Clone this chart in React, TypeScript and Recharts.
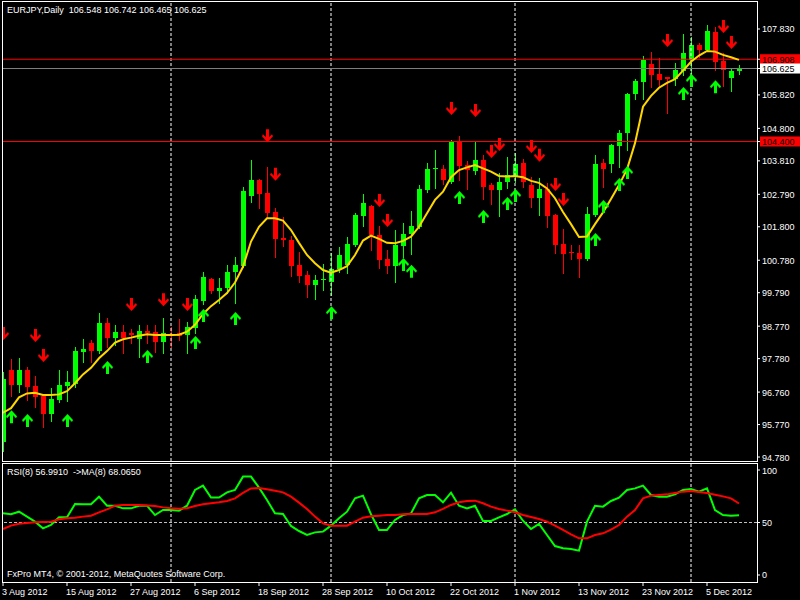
import { ComposedChart, Bar, Line, Scatter, XAxis, YAxis, ReferenceLine } from 'recharts'

const FONT = '"Liberation Sans", Arial, sans-serif'

// daily EURJPY, 3 Aug 2012 .. 11 Dec 2012 (93 sessions, index = bar number)
const openP = [
  95.24, 97.43, 96.98, 97.43, 96.95, 96.64, 96.09, 96.52, 96.95, 97.01,
  97.98, 98.25, 98.01, 98.87, 98.41, 98.59, 98.56, 98.38, 98.62, 98.59,
  98.29, 98.50, 98.56, 98.50, 98.71, 99.54, 100.21, 99.84, 99.93, 100.42,
  100.60, 102.74, 103.23, 102.83, 102.25, 101.46, 101.40, 100.63, 100.33, 100.02,
  100.21, 100.12, 100.51, 100.63, 101.24, 102.13, 102.43, 101.55, 100.82, 100.60,
  101.21, 101.58, 101.79, 102.92, 103.56, 103.56, 103.17, 104.42, 103.68, 103.50,
  103.84, 103.07, 102.92, 103.17, 103.32, 103.74, 103.07, 102.68, 102.95, 102.16,
  101.27, 101.03, 101.00, 100.82, 102.16, 103.74, 103.71, 104.26, 104.66, 105.85,
  106.21, 106.76, 106.46, 106.37, 106.31, 106.55, 106.89, 107.34, 107.19, 107.74,
  106.85, 106.34, 106.55,
]
const highP = [
  97.37, 97.77, 97.80, 97.52, 97.25, 96.67, 96.89, 97.43, 97.40, 98.13,
  98.38, 98.35, 99.17, 99.02, 98.81, 98.81, 98.68, 98.81, 98.81, 98.81,
  99.02, 98.74, 98.99, 98.90, 99.72, 100.42, 100.24, 100.24, 100.63, 100.88,
  103.01, 103.84, 103.26, 103.62, 102.37, 102.10, 101.52, 101.03, 100.45, 100.33,
  100.67, 101.00, 101.18, 101.49, 102.22, 102.80, 102.47, 101.82, 101.09, 101.70,
  101.91, 102.28, 103.07, 103.74, 104.14, 103.68, 104.45, 104.57, 103.80, 104.38,
  103.99, 103.13, 103.44, 103.93, 104.05, 103.87, 103.32, 103.29, 103.13, 102.18,
  101.73, 101.24, 101.24, 102.40, 103.99, 103.87, 104.32, 104.75, 105.88, 106.31,
  107.01, 107.13, 106.95, 106.38, 106.79, 107.68, 107.59, 107.40, 107.95, 107.89,
  107.10, 106.64, 106.74,
]
const lowP = [
  94.96, 96.64, 96.76, 96.52, 96.31, 95.70, 95.88, 96.46, 96.49, 96.91,
  97.67, 97.67, 97.95, 98.13, 98.19, 97.95, 98.26, 97.83, 98.26, 97.98,
  97.95, 98.13, 98.35, 97.95, 98.56, 99.45, 99.78, 99.48, 99.78, 99.48,
  100.57, 102.56, 102.37, 102.10, 100.88, 101.21, 100.30, 100.12, 99.66, 99.60,
  99.87, 99.72, 100.42, 100.39, 101.21, 101.82, 101.09, 100.54, 100.39, 100.12,
  100.88, 100.97, 101.76, 102.86, 102.98, 103.10, 103.14, 103.23, 102.95, 103.41,
  102.65, 102.49, 102.13, 102.98, 103.17, 103.01, 102.40, 102.16, 101.79, 101.00,
  100.39, 100.82, 100.27, 100.80, 102.13, 103.01, 103.47, 103.62, 104.14, 105.70,
  105.70, 106.06, 106.06, 105.27, 106.12, 106.43, 106.37, 106.98, 107.18, 106.58,
  106.09, 105.94, 106.47,
]
const closeP = [
  97.16, 96.98, 97.43, 96.91, 96.61, 96.09, 96.55, 96.98, 97.07, 98.01,
  98.07, 98.01, 98.87, 98.41, 98.59, 98.41, 98.50, 98.62, 98.56, 98.29,
  98.56, 98.49, 98.47, 98.74, 99.60, 100.27, 99.84, 99.93, 100.42, 100.63,
  102.89, 103.23, 102.80, 102.22, 101.43, 101.41, 100.60, 100.30, 100.02, 100.18,
  100.22, 100.51, 100.94, 101.28, 102.16, 102.52, 101.55, 100.79, 100.60, 101.24,
  101.58, 101.82, 102.95, 103.56, 103.58, 103.23, 104.42, 103.65, 103.53, 103.84,
  103.01, 102.92, 103.17, 103.38, 103.71, 103.17, 102.68, 102.95, 102.13, 101.25,
  100.97, 101.01, 100.82, 102.19, 103.71, 103.56, 104.29, 104.66, 105.85, 106.24,
  106.89, 106.43, 106.27, 106.31, 106.58, 107.10, 107.34, 107.19, 107.77, 106.82,
  106.58, 106.55, 106.63,
]
// yellow moving average on price
const maP = [
  96.13, 96.27, 96.60, 96.72, 96.74, 96.67, 96.67, 96.69, 96.79, 97.03,
  97.30, 97.50, 97.79, 98.01, 98.27, 98.37, 98.42, 98.48, 98.52, 98.50,
  98.50, 98.50, 98.51, 98.60, 98.81, 99.14, 99.38, 99.57, 99.78, 100.10,
  100.58, 101.35, 101.80, 102.06, 102.06, 101.99, 101.70, 101.31, 100.94, 100.69,
  100.48, 100.40, 100.48, 100.60, 100.94, 101.38, 101.53, 101.43, 101.31, 101.30,
  101.37, 101.50, 101.80, 102.21, 102.62, 102.87, 103.31, 103.53, 103.61, 103.68,
  103.58, 103.48, 103.35, 103.33, 103.35, 103.31, 103.20, 103.14, 102.97, 102.67,
  102.25, 101.88, 101.49, 101.50, 101.88, 102.24, 102.65, 103.07, 103.55, 104.35,
  105.46, 105.79, 106.04, 106.19, 106.30, 106.56, 106.83, 107.02, 107.16, 107.14,
  107.04, 106.97, 106.89,
]
const rsi8 = [
  58.7, 57.8, 60.3, 55.6, 50.8, 44.4, 47.6, 54.9, 54.9, 67.6,
  67.3, 67.3, 74.6, 66.0, 66.0, 63.5, 63.5, 66.0, 66.0, 57.1,
  61.9, 61.9, 61.3, 66.0, 81.0, 85.1, 73.7, 73.7, 78.7, 81.0,
  93.7, 93.7, 83.2, 71.4, 58.7, 58.1, 46.7, 41.9, 38.1, 40.6,
  41.3, 47.0, 54.0, 60.3, 73.0, 75.6, 57.8, 42.9, 42.9, 52.4,
  57.1, 58.7, 73.0, 76.2, 76.2, 69.2, 78.4, 66.0, 63.5, 66.0,
  51.4, 51.4, 54.9, 58.1, 62.5, 51.7, 43.8, 48.6, 38.1, 27.6,
  25.4, 24.8, 23.2, 50.8, 66.0, 65.1, 70.5, 73.7, 81.0, 82.5,
  85.1, 76.2, 74.6, 74.6, 76.8, 81.0, 81.9, 79.4, 82.5, 61.9,
  57.1, 56.5, 57.0,
]
const rsiMa8 = [
  43.8, 47.0, 48.9, 49.5, 50.2, 50.5, 50.8, 53.0, 54.0, 54.6,
  55.6, 56.5, 59.7, 62.5, 66.0, 66.7, 66.7, 66.7, 66.3, 65.7,
  64.4, 63.5, 63.2, 63.5, 65.7, 67.3, 68.3, 69.2, 70.5, 73.0,
  78.2, 82.4, 82.9, 81.7, 80.3, 78.7, 74.6, 68.9, 62.9, 55.6,
  49.2, 47.0, 47.0, 47.0, 50.8, 54.6, 55.9, 56.5, 57.1, 57.1,
  57.8, 58.1, 58.1, 58.1, 59.7, 62.9, 66.7, 69.2, 70.5, 70.8,
  68.3, 65.1, 62.9, 61.3, 59.7, 57.1, 55.2, 53.3, 50.8, 47.0,
  42.9, 38.7, 34.9, 34.9, 38.1, 39.7, 43.2, 47.6, 55.6, 61.9,
  73.0, 75.6, 76.2, 76.8, 78.1, 79.4, 80.0, 79.0, 78.1, 76.5,
  74.9, 73.0, 68.1,
]

// signal arrows: bar index + price of the arrow tip
const downBars = [0, 4, 5, 16, 20, 23, 33, 34, 47, 48, 56, 59, 61, 62, 66, 67, 69, 70, 83, 90, 91]
const downTips = [98.35, 98.29, 97.68, 99.23, 99.38, 99.23, 104.38, 103.20, 102.40, 101.79, 105.21, 105.15, 103.90, 104.11, 104.05, 103.78, 102.89, 102.43, 107.28, 107.71, 107.22]
const upBars = [1, 3, 8, 13, 18, 24, 25, 29, 41, 50, 51, 57, 60, 63, 64, 74, 75, 77, 78, 85, 86, 89]
const upTips = [96.21, 96.09, 96.09, 97.71, 98.04, 98.47, 99.29, 99.20, 99.38, 100.85, 100.64, 102.89, 102.31, 102.71, 102.95, 101.61, 102.62, 103.29, 103.65, 106.06, 106.46, 106.27]

const priceTicks = [107.83, 105.82, 104.8, 103.81, 102.79, 101.8, 100.78, 99.79, 98.77, 97.78, 96.76, 95.77, 94.78]
const redLevels = [106.908, 104.4]
const bidLevel = 106.625
const rsiTicks = [0, 50, 100]
const monthStartIdx = [21, 41, 64, 86]
const dateTickIdx = [0, 8, 16, 24, 32, 40, 48, 56, 64, 72, 80, 88]
const dateLabels = ['3 Aug 2012', '15 Aug 2012', '27 Aug 2012', '6 Sep 2012', '18 Sep 2012', '28 Sep 2012', '10 Oct 2012', '22 Oct 2012', '1 Nov 2012', '13 Nov 2012', '23 Nov 2012', '5 Dec 2012']

const rows = openP.map((o, i) => ({ i, open: o, high: highP[i], low: lowP[i], close: closeP[i], ma: maP[i] }))
const rsiRows = rsi8.map((v, i) => ({ i, rsi: v, rsiMa: rsiMa8[i] }))
const downData = downBars.map((b, k) => ({ i: b, p: downTips[k] }))
const upData = upBars.map((b, k) => ({ i: b, p: upTips[k] }))

const X_DOMAIN = [-0.125, 94.25]

function Candle(props: any) {
  const { x, y, width, height, payload } = props
  const { open, close, high, low } = payload
  const top = Math.min(y, y + height)
  const h = Math.abs(height)
  const py = (v: number) => top + ((high - v) / (high - low || 1)) * h
  const cx = Math.round(x + width / 2 + 0.01)
  const col = close >= open ? '#00ff00' : '#ff0000'
  const b0 = Math.round(py(Math.max(open, close)))
  const b1 = Math.round(py(Math.min(open, close)))
  return (
    <g shapeRendering="crispEdges">
      <line x1={cx + 0.5} x2={cx + 0.5} y1={Math.round(top)} y2={Math.round(top + h) + 1} stroke={col} />
      <rect x={cx - 2} y={b0} width={5} height={Math.max(1, b1 - b0)} fill={col} />
    </g>
  )
}

const DOWN = [[-1.5, -13], [1.5, -13], [1.5, -5], [4.5, -8], [5.5, -6], [0, 0], [-5.5, -6], [-4.5, -8], [-1.5, -5]]

function DownArrow(props: any) {
  const { cx, cy } = props
  const pts = DOWN.map(([dx, dy]) => `${cx + 0.5 + dx},${cy + dy}`).join(' ')
  return <polygon points={pts} fill="#ff0000" />
}

function UpArrow(props: any) {
  const { cx, cy } = props
  const pts = DOWN.map(([dx, dy]) => `${cx + 0.5 + dx},${cy - dy}`).join(' ')
  return <polygon points={pts} fill="#00ff00" />
}

function PriceTick(props: any) {
  const { x, y, payload } = props
  const v = payload.value
  const label = v.toFixed(3)
  if (v === bidLevel || redLevels.includes(v)) {
    return (
      <g>
        <rect x={x - 2} y={y - 5} width={42} height={10} fill={v === bidLevel ? '#ffffff' : '#ff0000'} />
        <text x={x} y={y + 3.5} fill="#000000" fontSize={9} fontFamily={FONT}>{label}</text>
      </g>
    )
  }
  return <text x={x} y={y + 3.5} fill="#ffffff" fontSize={9} fontFamily={FONT}>{label}</text>
}

function RsiTick(props: any) {
  const { x, y, payload } = props
  return <text x={x} y={y + 3.5} fill="#ffffff" fontSize={9} fontFamily={FONT}>{payload.value}</text>
}

function DateTick(props: any) {
  const { x, y, payload } = props
  const k = dateTickIdx.indexOf(payload.value)
  return <text x={x - 1} y={y + 7} fill="#ffffff" fontSize={9} fontFamily={FONT}>{dateLabels[k]}</text>
}

const textStyle = {
  position: 'absolute' as const,
  color: '#ffffff',
  fontFamily: FONT,
  fontSize: 9,
  lineHeight: '10px',
  whiteSpace: 'pre' as const,
}

export default function App() {
  return (
    <div style={{ position: 'absolute', left: 0, top: 0, width: 800, height: 600, background: '#000000', overflow: 'hidden' }}>
      <div style={{ position: 'absolute', left: 0, top: 0 }}>
        <ComposedChart width={800} height={462} data={rows} margin={{ top: 2, right: 0, bottom: 1, left: 2 }}>
          <XAxis dataKey="i" type="number" domain={X_DOMAIN} allowDataOverflow hide />
          <YAxis
            orientation="right"
            width={43}
            domain={[94.659, 108.653]}
            allowDataOverflow
            ticks={[...priceTicks, ...redLevels, bidLevel]}
            interval={0}
            axisLine={false}
            tickSize={3}
            tickMargin={2}
            tickLine={{ stroke: '#ffffff' }}
            tick={PriceTick}
          />
          {monthStartIdx.map(m => (
            <ReferenceLine key={m} x={m} stroke="#ffffff" strokeDasharray="3 2" />
          ))}
          <ReferenceLine y={redLevels[0]} stroke="#ff0000" />
          <ReferenceLine y={bidLevel} stroke="#808080" />
          <ReferenceLine y={redLevels[1]} stroke="#ff0000" />
          <Bar dataKey={(d: any) => [d.low, d.high]} barSize={5} shape={Candle} isAnimationActive={false} />
          <Line dataKey="ma" stroke="#ffd700" strokeWidth={2} dot={false} isAnimationActive={false} />
          <Scatter data={downData} dataKey="p" shape={DownArrow} isAnimationActive={false} />
          <Scatter data={upData} dataKey="p" shape={UpArrow} isAnimationActive={false} />
        </ComposedChart>
      </div>
      <div style={{ position: 'absolute', left: 0, top: 463 }}>
        <ComposedChart width={800} height={137} data={rsiRows} margin={{ top: 0, right: 0, bottom: 0, left: 2 }}>
          <XAxis
            dataKey="i"
            type="number"
            domain={X_DOMAIN}
            allowDataOverflow
            ticks={dateTickIdx}
            interval={0}
            height={18}
            axisLine={false}
            tickSize={4}
            tickMargin={2}
            tickLine={{ stroke: '#ffffff' }}
            tick={DateTick}
          />
          <YAxis
            orientation="right"
            width={43}
            domain={[-6.67, 106.67]}
            allowDataOverflow
            ticks={rsiTicks}
            interval={0}
            axisLine={false}
            tickSize={3}
            tickMargin={2}
            tickLine={{ stroke: '#ffffff' }}
            tick={RsiTick}
          />
          {monthStartIdx.map(m => (
            <ReferenceLine key={m} x={m} stroke="#ffffff" strokeDasharray="3 2" />
          ))}
          <ReferenceLine y={50} stroke="#c0c0c0" strokeDasharray="3 2" />
          <Line dataKey="rsi" stroke="#00ff00" strokeWidth={2} dot={false} isAnimationActive={false} />
          <Line dataKey="rsiMa" stroke="#ff0000" strokeWidth={2} dot={false} isAnimationActive={false} />
        </ComposedChart>
      </div>

      {/* panel frames */}
      <div style={{ position: 'absolute', left: 2, top: 1, width: 756, height: 461, border: '1px solid #ffffff', boxSizing: 'border-box' }} />
      <div style={{ position: 'absolute', left: 2, top: 463, width: 756, height: 120, border: '1px solid #ffffff', boxSizing: 'border-box' }} />

      <div style={{ ...textStyle, left: 7, top: 5 }}>{'EURJPY,Daily  106.548 106.742 106.465 106.625'}</div>
      <div style={{ ...textStyle, left: 7, top: 467 }}>{'RSI(8) 56.9910  ->MA(8) 68.0650'}</div>
      <div style={{ ...textStyle, left: 7, top: 569 }}>{'FxPro MT4, © 2001-2012, MetaQuotes Software Corp.'}</div>
    </div>
  )
}
